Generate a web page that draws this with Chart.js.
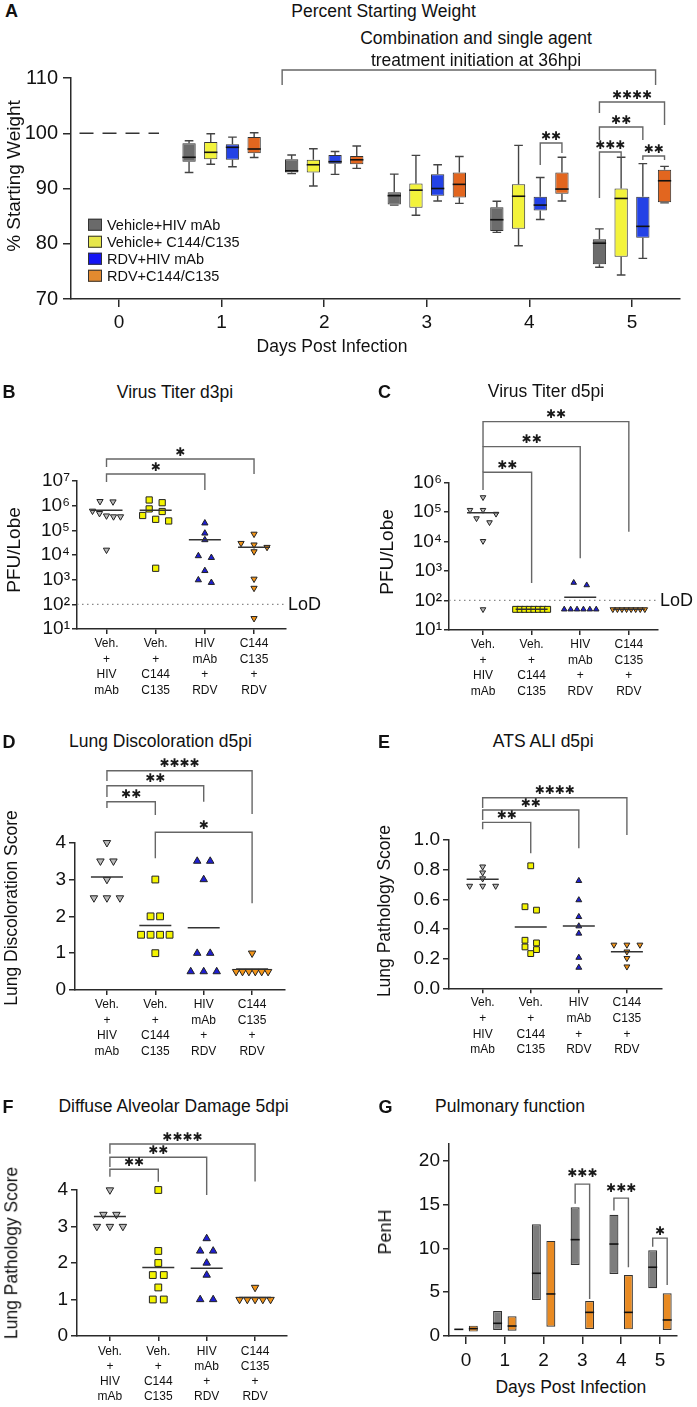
<!DOCTYPE html>
<html><head><meta charset="utf-8"><title>Figure</title>
<script src="https://cdn.jsdelivr.net/npm/chart.js"></script>
<style>
html,body{margin:0;padding:0;background:#fff;}
body{position:relative;width:697px;height:1407px;overflow:hidden;font-family:"Liberation Sans",Arial,Helvetica,sans-serif;color:#111;}
canvas{position:absolute;}
.t{position:absolute;white-space:nowrap;line-height:1;}
.lg{position:absolute;display:flex;align-items:center;font-size:14.5px;line-height:1;white-space:nowrap;transform:translateY(-50%);}
.lg i{display:inline-block;width:14px;height:12px;border:1px solid #333;box-sizing:border-box;margin-right:5px;}
</style></head><body>
<script>
// ================= DATA =================
const groupLabels = [["Veh.","+","HIV","mAb"],["Veh.","+","C144","C135"],["HIV","mAb","+","RDV"],["C144","C135","+","RDV"]];
const legendLabels = ["Vehicle+HIV mAb","Vehicle+ C144/C135","RDV+HIV mAb","RDV+C144/C135"];
const dayTicks = [0,1,2,3,4,5];

// Panel A: percent starting weight, [min, Q1, median, Q3, max] for days 1-5
const weightDays = [1,2,3,4,5];
const weightBaseline = 100, baselineDay = 0;
const wtVehHiv = [[92.9,94.85,95.65,98.2,98.65],[92.7,92.9,93.2,95.3,96.05],[87.0,87.1,88.7,89.3,92.6],[82.05,82.3,84.35,86.6,87.7],[75.75,76.3,80.1,80.8,82.7]];
const wtVehC   = [[94.4,95.3,96.55,98.4,99.9],[90.45,92.9,94.3,95.2,97.2],[85.15,86.5,89.7,90.9,96.0],[79.65,82.7,88.6,90.75,97.8],[74.35,77.65,88.2,90.0,95.65]];
const wtRdvHiv = [[93.95,95.2,97.45,98.0,99.3],[92.55,94.5,94.85,96.05,96.7],[87.75,88.7,90.0,92.6,94.3],[84.4,86.0,87.0,88.5,92.0],[77.35,81.1,83.15,88.5,94.5]];
const wtRdvC   = [[95.6,96.4,97.15,99.3,100.1],[93.65,94.4,95.2,95.9,97.7],[87.3,88.35,90.75,92.9,95.8],[87.75,89.05,89.9,92.9,95.65],[87.4,87.5,91.4,93.4,94.0]];

// Panel B: virus titer d3pi (PFU/lobe)
const titerD3VehHiv = [1.5e6,1.45e6,6.1e5,4.9e5,3.9e5,3.6e5,3.6e5,1.6e4];
const titerD3VehC   = [1.7e6,1.32e6,7.4e5,5.8e5,4.0e5,2.8e5,2.4e5,2.9e3];
const titerD3HivRdv = [1.96e5,7.6e4,4.1e4,9.2e3,7.8e3,2.3e3,970,760];
const titerD3CRdv   = [7.1e4,3.0e4,2.6e4,2.07e4,1.38e4,1070,455,27];
// Panel C: virus titer d5pi
const titerD5VehHiv = [3.1e5,1.15e5,1.15e5,8.5e4,6.0e4,4.4e4,1.02e4,50];
const titerD5VehC   = [50,50,50,50,50,50,50,50];
const titerD5HivRdv = [400,330,50,50,50,50,50,50];
const titerD5CRdv   = [50,50,50,50,50,50,50,50];
const lodValue = 100;
// Panel D: lung discoloration score d5pi
const discVehHiv = [4,3.5,3.5,3,2.5,2.5,2.5];
const discVehC   = [3,2,2,1.5,1.5,1.5,1.5,1];
const discHivRdv = [3.5,3.5,3,1,1,0.5,0.5,0.5];
const discCRdv   = [1,0.5,0.5,0.5,0.5,0.5,0.5];
// Panel E: ATS ALI d5pi
const aliVehHiv = [0.82,0.78,0.74,0.69,0.69,0.69];
const aliVehC   = [0.826,0.55,0.527,0.324,0.306,0.279,0.261,0.234];
const aliHivRdv = [0.725,0.595,0.482,0.419,0.37,0.207,0.14];
const aliCRdv   = [0.293,0.293,0.293,0.247,0.203,0.146];
// Panel F: diffuse alveolar damage 5dpi
const dadVehHiv = [4,3.33,3.33,3,3,3];
const dadVehC   = [4,2.33,2,1.67,1.67,1.33,1,1];
const dadHivRdv = [2.67,2.33,2.33,2,1.67,1,1];
const dadCRdv   = [1.33,1,1,1,1,1];
// Panel G: PenH [min, median, max] for days 0-5
const penhDays = [0,1,2,3,4,5];
const penhVehHiv = [[0.72,0.76,0.8],[0.69,1.45,2.86],[4.11,7.16,12.76],[8.11,11.0,14.7],[7.09,10.5,13.83],[5.45,7.85,9.79]];
const penhCRdv   = [[0.5,0.84,1.18],[0.61,1.14,2.25],[1.07,4.8,10.86],[0.8,2.7,4.0],[0.76,2.7,6.97],[0.69,1.83,4.88]];

// ================= STYLE / HELPERS =================
const FONT = '"Liberation Sans", Arial, Helvetica, sans-serif';
const AX = '#2a2a2a';
Chart.defaults.font.family = FONT;
Chart.defaults.color = '#111';
Chart.defaults.animation = false;

const boxColors = ['#6c6c6c','#f3f33b','#2342e6','#e2661f'];
const legendColors = ['#6a6a6a','#e6e64a','#1414f5','#e38a2f'];
const markerStyles = [
  {style:'triangle', rot:180, fill:'#b9b9b9', kind:'tri'},
  {style:'rect', rot:0, fill:'#f4f400', kind:'sq'},
  {style:'triangle', rot:0, fill:'#1e1ed2', kind:'tri'},
  {style:'triangle', rot:180, fill:'#f29418', kind:'tri'}
];
const supDigits = ['⁰','¹','²','³','⁴','⁵','⁶','⁷','⁸','⁹'];

function txt(s, x, y, o) {
  o = o || {};
  const d = document.createElement('div');
  d.className = 't'; d.textContent = s;
  d.style.fontSize = (o.size || 17.5) + 'px';
  if (o.bold) d.style.fontWeight = 'bold';
  d.style.left = x + 'px'; d.style.top = y + 'px';
  d.style.transform = 'translate(-50%,-50%)' + (o.rot ? ' rotate(' + o.rot + 'deg)' : '');
  document.body.appendChild(d);
}
function makePanel(rect, plot, yW, xH) {
  const c = document.createElement('canvas');
  c.width = rect[2]; c.height = rect[3];
  c.style.left = rect[0] + 'px'; c.style.top = rect[1] + 'px';
  c.style.width = rect[2] + 'px'; c.style.height = rect[3] + 'px';
  document.body.appendChild(c);
  return {canvas: c, padding: {
    left: plot[0] - rect[0] - yW, top: plot[1] - rect[1],
    right: rect[0] + rect[2] - plot[2], bottom: rect[1] + rect[3] - plot[3] - xH }};
}
function gridTicks(len) {
  return {display:true, drawOnChartArea:false, drawTicks:true, tickLength:len, color:AX, lineWidth:1.5, offset:false};
}
function yAxis(o) {
  const a = {
    type: o.type || 'linear', min: o.min, max: o.max,
    border: {display:true, color:AX, width:1.5},
    grid: gridTicks(o.tick || 6),
    ticks: {font:{size:o.size || 19}, padding:o.pad || 3, color:'#111', autoSkip:false},
    afterFit: s => { s.width = o.w; }
  };
  if (o.step) a.ticks.stepSize = o.step;
  if (o.cb) a.ticks.callback = o.cb;
  if (o.ticks) a.afterBuildTicks = s => { s.ticks = o.ticks.map(v => ({value:v})); };
  return a;
}
function xAxisGroups(o) {
  return {
    type:'linear', min:o.min, max:o.max, offset:false,
    border:{display:true, color:AX, width:1.5},
    grid: gridTicks(5),
    ticks:{font:{size:12, lineHeight:o.lh || 1.3}, padding:o.pad || 2, autoSkip:false, maxRotation:0, color:'#111',
      callback: v => groupLabels[v]},
    afterBuildTicks: s => { s.ticks = [0,1,2,3].map(v => ({value:v})); },
    afterFit: s => { s.height = o.h; }
  };
}
function xAxisDays(o) {
  return {
    type:'linear', min:o.min, max:o.max, offset:false,
    border:{display:true, color:AX, width:1.5},
    grid: gridTicks(o.tick),
    ticks:{font:{size:o.size || 19}, padding:o.pad, autoSkip:false, maxRotation:0, color:'#111'},
    afterBuildTicks: s => { s.ticks = dayTicks.map(v => ({value:v})); },
    afterFit: s => { s.height = o.h; }
  };
}
function sigPlugin(brackets) {
  return {
    id:'sig',
    afterDatasetsDraw(chart) {
      const ctx = chart.ctx, ys = chart.scales.y, xs = chart.scales.x;
      const px = r => typeof r === 'number' ? xs.getPixelForValue(r) : chart.getDatasetMeta(r.ds).data[r.i].x;
      ctx.save();
      ctx.lineWidth = 1.4; ctx.strokeStyle = '#666';
      ctx.fillStyle = '#1a1a1a'; ctx.font = '12px "DejaVu Sans"';
      ctx.textAlign = 'center'; ctx.textBaseline = 'middle';
      brackets.forEach(b => {
        const xa = px(b.a), xb = px(b.b), yt = ys.getPixelForValue(b.top);
        ctx.beginPath();
        ctx.moveTo(xa, ys.getPixelForValue(b.legA)); ctx.lineTo(xa, yt);
        ctx.lineTo(xb, yt); ctx.lineTo(xb, ys.getPixelForValue(b.legB));
        ctx.stroke();
        if (b.label) ctx.fillText(b.label.replace(/\*/g, '\u2731'), (xa + xb) / 2, yt - (b.off || 6.5));
      });
      ctx.restore();
    }
  };
}
const boxPlugin = {
  id:'boxstats',
  afterDatasetsDraw(chart) {
    const ctx = chart.ctx, ys = chart.scales.y;
    chart.data.datasets.forEach((ds, di) => {
      if (!ds.stats) return;
      chart.getDatasetMeta(di).data.forEach((bar, i) => {
        const s = ds.stats[i]; if (!s) return;
        const w = bar.width, x = bar.x;
        ctx.save();
        if (s.length === 5) {
          ctx.strokeStyle = '#444'; ctx.lineWidth = 1.4;
          const cap = w * 0.65;
          [[s[3], s[4]], [s[1], s[0]]].forEach(p => {
            const y1 = ys.getPixelForValue(p[0]), y2 = ys.getPixelForValue(p[1]);
            ctx.beginPath(); ctx.moveTo(x, y1); ctx.lineTo(x, y2);
            ctx.moveTo(x - cap / 2, y2); ctx.lineTo(x + cap / 2, y2); ctx.stroke();
          });
        }
        const med = s.length === 5 ? s[2] : s[1];
        const ym = ys.getPixelForValue(med);
        ctx.strokeStyle = '#111'; ctx.lineWidth = 1.6;
        ctx.beginPath(); ctx.moveTo(x - w / 2, ym); ctx.lineTo(x + w / 2, ym); ctx.stroke();
        ctx.restore();
      });
    });
  }
};
function lodPlugin(value) {
  return { id:'lod', afterDraw(chart) {
    const ctx = chart.ctx, y = chart.scales.y.getPixelForValue(value);
    ctx.save(); ctx.font = '18px ' + FONT; ctx.fillStyle = '#111';
    ctx.textAlign = 'left'; ctx.textBaseline = 'middle';
    ctx.fillText('LoD', chart.chartArea.right + 2, y + 1);
    ctx.restore();
  }};
}
function swarmOffsets(py, spacing, maxW, tol) {
  const idx = py.map((_, i) => i).sort((a, b) => py[a] - py[b]);
  const offs = new Array(py.length).fill(0);
  let row = [], start = 0;
  const flush = () => {
    const k = row.length; if (!k) return;
    const s = k > 1 ? Math.min(spacing, maxW / (k - 1)) : 0;
    row.forEach((i, j) => { offs[i] = (j - (k - 1) / 2) * s; });
    row = [];
  };
  idx.forEach(i => {
    if (row.length && py[i] - start >= tol) flush();
    if (!row.length) start = py[i];
    row.push(i);
  });
  flush();
  return offs;
}
const mean = a => a.reduce((s, v) => s + v, 0) / a.length;

function scatterPanel(cfg) {
  const {canvas, padding} = makePanel(cfg.rect, cfg.plot, cfg.yW, cfg.xH);
  const ppu = (cfg.plot[2] - cfg.plot[0]) / (cfg.xmax - cfg.xmin);
  const half = 16 / ppu;
  const datasets = [];
  cfg.groups.forEach((vals, gi) => {
    const m = mean(vals);
    datasets.push({data:[{x:gi - half, y:m},{x:gi + half, y:m}], showLine:true, borderColor:'#333',
      borderWidth:1.5, pointRadius:0, order:0});
  });
  cfg.groups.forEach((vals, gi) => {
    const st = markerStyles[gi];
    datasets.push({data: vals.map(v => ({x:gi, y:v})), pointStyle:st.style, pointRotation:st.rot,
      pointRadius:cfg.radius[st.kind], backgroundColor:st.fill, borderColor:'#222', borderWidth:1, order:1, clip:false});
  });
  const plugins = [sigPlugin(cfg.brackets)];
  if (cfg.lod) {
    datasets.push({data:[{x:cfg.xmin, y:cfg.lod},{x:cfg.xmax, y:cfg.lod}], showLine:true, borderColor:'#888',
      borderWidth:1.3, borderDash:[1.5, 3.5], pointRadius:0, order:2});
    plugins.push(lodPlugin(cfg.lod));
  }
  const chart = new Chart(canvas, {
    type:'scatter', data:{datasets},
    options:{responsive:false, animation:false, devicePixelRatio:1, layout:{padding},
      plugins:{legend:{display:false}, tooltip:{enabled:false}},
      scales:{x: xAxisGroups({min:cfg.xmin, max:cfg.xmax, h:cfg.xH, pad:cfg.xpad, lh:cfg.xlh}), y: yAxis(cfg.y)}},
    plugins
  });
  const ys = chart.scales.y, xs = chart.scales.x;
  const ppx = xs.getPixelForValue(1) - xs.getPixelForValue(0);
  cfg.groups.forEach((vals, gi) => {
    const py = vals.map(v => ys.getPixelForValue(v));
    const offs = swarmOffsets(py, cfg.spacing[markerStyles[gi].kind], cfg.maxW, cfg.tol);
    chart.data.datasets[cfg.groups.length + gi].data = vals.map((v, i) => ({x: gi + offs[i] / ppx, y: v}));
  });
  chart.update('none');
  return chart;
}
const logCb = v => '10' + supDigits[Math.round(Math.log10(v))];
const pow10 = e => Math.pow(10, e);

// ================= PANEL A =================
(function () {
  const {canvas, padding} = makePanel([0,60,697,300], [71,78,680,299], 65, 40);
  const groups = [wtVehHiv, wtVehC, wtRdvHiv, wtRdvC];
  const datasets = groups.map((g, k) => ({
    label: legendLabels[k], type:'bar',
    data: weightDays.map((d, i) => ({x:d, y:[g[i][1], g[i][3]]})),
    stats: g, backgroundColor: boxColors[k], borderColor:'#333', borderWidth:1, borderSkipped:false,
    categoryPercentage:0.846, barPercentage:0.613, order:1
  }));
  datasets.push({type:'line', data:[{x:baselineDay - 0.385, y:weightBaseline},{x:baselineDay + 0.39, y:weightBaseline}],
    borderColor:'#333', borderWidth:1.4, borderDash:[14, 9], pointRadius:0, order:0});
  const brackets = [
    {a:{ds:2,i:3}, b:{ds:3,i:3}, top:98.24, legA:94.25, legB:96.43, label:'**'},
    {a:{ds:0,i:4}, b:{ds:3,i:4}, top:105.66, legA:103.67, legB:101.49, label:'****'},
    {a:{ds:0,i:4}, b:{ds:2,i:4}, top:101.13, legA:98.78, legB:98.78, label:'**'},
    {a:{ds:0,i:4}, b:{ds:1,i:4}, top:96.61, legA:88.28, legB:95.7, label:'***'},
    {a:{ds:2,i:4}, b:{ds:3,i:4}, top:95.88, legA:95.16, legB:95.16, label:'**'},
    {a:1.59, b:5.23, top:111.45, legA:108.73, legB:108.73}
  ];
  new Chart(canvas, {
    type:'bar', data:{datasets},
    options:{responsive:false, animation:false, devicePixelRatio:1, layout:{padding},
      plugins:{legend:{display:false}, tooltip:{enabled:false}},
      scales:{
        x: xAxisDays({min:-0.468, max:5.468, h:40, tick:8, pad:4, size:19}),
        y: yAxis({min:70, max:110, step:10, w:65, size:20, tick:8, pad:5})
      }},
    plugins:[boxPlugin, sigPlugin(brackets)]
  });
  txt('A', 11.5, 11, {size:18, bold:true});
  txt('Percent Starting Weight', 383.5, 12, {size:17.5});
  txt('Combination and single agent', 476, 39, {size:17.5});
  txt('treatment initiation at 36hpi', 476, 61, {size:17.5});
  txt('% Starting Weight', 13, 176, {size:19, rot:-90});
  txt('Days Post Infection', 332, 347, {size:17.5});
  [225, 242, 259, 276].forEach((y, k) => {
    const d = document.createElement('div'); d.className = 'lg';
    d.style.left = '88px'; d.style.top = y + 'px';
    const sw = document.createElement('i'); sw.style.background = legendColors[k];
    d.appendChild(sw); d.appendChild(document.createTextNode(legendLabels[k]));
    document.body.appendChild(d);
  });
})();

// ================= PANEL B =================
scatterPanel({
  rect:[0,430,345,280], plot:[77,481,286,629], yW:70, xH:70, xmin:-0.6, xmax:3.65,
  y:{type:'logarithmic', min:10, max:1e7, w:70, size:19, tick:5, pad:2, ticks:[1e1,1e2,1e3,1e4,1e5,1e6,1e7], cb:logCb},
  groups:[titerD3VehHiv, titerD3VehC, titerD3HivRdv, titerD3CRdv],
  radius:{tri:3.6, sq:4.4}, spacing:{tri:13, sq:13}, maxW:28, tol:6, lod:lodValue,
  brackets:[
    {a:0, b:3, top:pow10(7.89), legA:pow10(7.567), legB:pow10(7.283), label:'*'},
    {a:0, b:2, top:pow10(7.283), legA:pow10(6.96), legB:pow10(6.636), label:'*'}
  ]
});
txt('B', 9, 392, {size:18, bold:true});
txt('Virus Titer d3pi', 175, 393);
txt('PFU/Lobe', 13, 550, {size:19, rot:-90});

// ================= PANEL C =================
scatterPanel({
  rect:[350,400,347,310], plot:[449,482.3,658,630], yW:70, xH:70, xmin:-0.7, xmax:3.6,
  y:{type:'logarithmic', min:10, max:1e6, w:70, size:19, tick:5, pad:2, ticks:[1e1,1e2,1e3,1e4,1e5,1e6], cb:logCb},
  groups:[titerD5VehHiv, titerD5VehC, titerD5HivRdv, titerD5CRdv],
  radius:{tri:3.2, sq:4.2}, spacing:{tri:13, sq:13}, maxW:32, tol:6, lod:lodValue,
  brackets:[
    {a:0, b:3, top:pow10(8.054), legA:pow10(7.207), legB:pow10(4.33), label:'**'},
    {a:0, b:2, top:pow10(7.207), legA:pow10(6.34), legB:pow10(3.43), label:'**'},
    {a:0, b:1, top:pow10(6.34), legA:pow10(5.74), legB:pow10(2.59), label:'**'}
  ]
});
txt('C', 384.5, 392, {size:18, bold:true});
txt('Virus Titer d5pi', 546, 392);
txt('PFU/Lobe', 386, 551.7, {size:19, rot:-90});

// ================= PANEL D =================
scatterPanel({
  rect:[0,755,345,315], plot:[75,842.7,285,990], yW:60, xH:70, xmin:-0.66, xmax:3.68,
  y:{min:0, max:4, step:1, w:60, size:19, tick:6, pad:3},
  groups:[discVehHiv, discVehC, discHivRdv, discCRdv],
  radius:{tri:4.3, sq:4.8}, spacing:{tri:13, sq:9.5}, maxW:32, tol:5,
  brackets:[
    {a:0, b:3, top:5.955, legA:5.675, legB:4.78, label:'****'},
    {a:0, b:2, top:5.548, legA:5.24, legB:5.113, label:'**'},
    {a:0, b:1, top:5.113, legA:4.942, legB:4.752, label:'**'},
    {a:1, b:3, top:4.282, legA:3.576, legB:2.355, label:'*'}
  ]
});
txt('D', 9, 741.7, {size:18, bold:true});
txt('Lung Discoloration d5pi', 160.5, 741.5);
txt('Lung Discoloration Score', 12, 908, {size:17.5, rot:-90});

// ================= PANEL E =================
scatterPanel({
  rect:[350,780,347,290], plot:[449,840,662,988.3], yW:65, xH:70, xmin:-0.7, xmax:3.73,
  y:{min:0, max:1, step:0.2, w:65, size:19, tick:6, pad:3, cb:v => v.toFixed(1)},
  groups:[aliVehHiv, aliVehC, aliHivRdv, aliCRdv],
  radius:{tri:3.4, sq:4.1}, spacing:{tri:13, sq:11.5}, maxW:32, tol:5,
  brackets:[
    {a:0, b:3, top:1.285, legA:1.216, legB:1.034, label:'****'},
    {a:0, b:2, top:1.202, legA:1.135, legB:0.944, label:'**'},
    {a:0, b:1, top:1.119, legA:1.072, legB:0.910, label:'**'}
  ]
});
txt('E', 384, 741.7, {size:18, bold:true});
txt('ATS ALI d5pi', 543.3, 741.5);
txt('Lung Pathology Score', 384.5, 911, {size:17.5, rot:-90});

// ================= PANEL F =================
scatterPanel({
  rect:[0,1125,345,282], plot:[77,1190,287,1336], yW:60, xH:66, xmin:-0.68, xmax:3.66, xpad:3, xlh:1.25,
  y:{min:0, max:4, step:1, w:60, size:19, tick:6, pad:3},
  groups:[dadVehHiv, dadVehC, dadHivRdv, dadCRdv],
  radius:{tri:4.3, sq:4.8}, spacing:{tri:13, sq:11}, maxW:31, tol:5,
  brackets:[
    {a:0, b:3, top:5.26, legA:4.99, legB:4.23, label:'****'},
    {a:0, b:2, top:4.896, legA:4.63, legB:3.863, label:'**'},
    {a:0, b:1, top:4.567, legA:4.364, legB:4.227, label:'**'}
  ]
});
txt('F', 8, 1106.7, {size:18, bold:true});
txt('Diffuse Alveolar Damage 5dpi', 173.5, 1106.7);
txt('Lung Pathology Score', 12, 1253, {size:17.5, rot:-90});

// ================= PANEL G =================
(function () {
  const {canvas, padding} = makePanel([350,1125,347,250], [449,1143.3,677,1336], 60, 36);
  const groups = [penhVehHiv, penhCRdv];
  const colors = ['#7d7d7d', '#e88a22'];
  const datasets = groups.map((g, k) => ({
    data: penhDays.map((d, i) => ({x:d, y:[g[i][0], g[i][2]]})),
    stats: g, backgroundColor: colors[k], borderColor:'#333', borderWidth:1.2, borderSkipped:false,
    categoryPercentage:0.747, barPercentage:0.62
  }));
  const brackets = [
    {a:{ds:0,i:3}, b:{ds:1,i:3}, top:17.34, legA:15.09, legB:4.23, label:'***', off:10},
    {a:{ds:0,i:4}, b:{ds:1,i:4}, top:15.74, legA:14.32, legB:7.85, label:'***', off:9},
    {a:{ds:0,i:5}, b:{ds:1,i:5}, top:11.17, legA:10.2, legB:5.83, label:'*'}
  ];
  new Chart(canvas, {
    type:'bar', data:{datasets},
    options:{responsive:false, animation:false, devicePixelRatio:1, layout:{padding},
      plugins:{legend:{display:false}, tooltip:{enabled:false}},
      scales:{
        x: xAxisDays({min:-0.44, max:5.44, h:36, tick:8, pad:5, size:19}),
        y: yAxis({min:0, max:22, w:60, size:19, tick:6, pad:3, ticks:[0,5,10,15,20]})
      }},
    plugins:[boxPlugin, sigPlugin(brackets)]
  });
  txt('G', 385.5, 1106.7, {size:18, bold:true});
  txt('Pulmonary function', 510, 1106.7);
  txt('PenH', 384.5, 1231.7, {size:18, rot:-90});
  txt('Days Post Infection', 570.8, 1388.3, {size:17.5});
})();
</script>
</body></html>
